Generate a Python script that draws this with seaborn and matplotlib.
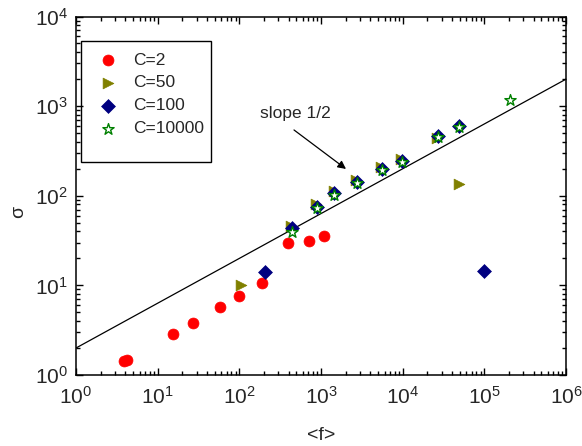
import numpy as np
import pandas as pd
import matplotlib
matplotlib.use("Agg")
import matplotlib.pyplot as plt
import seaborn as sns
from matplotlib.patches import Rectangle
from matplotlib.ticker import LogLocator, LogFormatterMathtext, NullFormatter

# ---- data ----
c2_f = [3.87, 4.18, 15.3, 26.8, 58.5, 98, 191, 391, 719, 1079]
c2_sigma = [1.43, 1.47, 2.89, 3.83, 5.78, 7.56, 10.7, 29.7, 31.5, 35.9]

c50_f = [104, 428, 868, 1425, 2680, 5420, 9540, 26000, 48500]
c50_sigma = [10.0, 46.5, 80, 112, 149, 208, 257, 445, 134]

c100_f = [206, 438, 885, 1455, 2735, 5530, 9730, 26800, 49300, 98000]
c100_sigma = [14.0, 43.7, 75.5, 106, 141, 197, 244, 465, 598, 14.5]

c10000_f = [438, 885, 1455, 2735, 5530, 9730, 26800, 49300, 208000]
c10000_sigma = [39.8, 73.7, 103, 137, 194, 240, 457, 590, 1173]

line_f = np.array([1.0, 1e6])
line_sigma = 2.0 * np.sqrt(line_f)   # guide line of slope 1/2

series_labels = ["C=2", "C=50", "C=100", "C=10000"]

# ---- style ----
sns.set_style("ticks")
plt.rcParams["font.family"] = ["Liberation Sans", "DejaVu Sans"]
plt.rcParams["mathtext.fontset"] = "custom"
plt.rcParams["mathtext.rm"] = "Liberation Sans"
plt.rcParams["mathtext.it"] = "Liberation Sans:italic"
plt.rcParams["mathtext.bf"] = "Liberation Sans:bold"

fig = plt.figure(figsize=(5.82, 4.46), dpi=100)
ax = fig.add_axes([76 / 582, (446 - 375) / 446, 490 / 582, 358.5 / 446])

sns.lineplot(x=line_f, y=line_sigma, color="black", lw=0.9, ax=ax)

sns.scatterplot(x=c2_f, y=c2_sigma, marker="o", color="#ff0000", s=62,
                edgecolor="#ff0000", linewidth=0.5, ax=ax, label=series_labels[0], zorder=3)
sns.scatterplot(x=c50_f, y=c50_sigma, marker=">", color="#808000", s=60,
                edgecolor="#808000", linewidth=0.5, ax=ax, label=series_labels[1], zorder=4)
sns.scatterplot(x=c100_f, y=c100_sigma, marker="D", color="#000080", s=50,
                edgecolor="#000080", linewidth=0.5, ax=ax, label=series_labels[2], zorder=5)
sns.scatterplot(x=c10000_f, y=c10000_sigma, marker="*", color="#008000", s=72,
                edgecolor="#008000", linewidth=1.0, ax=ax, label=series_labels[3], zorder=6)
ax.collections[-1].set_facecolor("white")

ax.set_xscale("log")
ax.set_yscale("log")
ax.set_xlim(1, 1e6)
ax.set_ylim(1, 1e4)

ax.xaxis.set_major_locator(LogLocator(base=10, numticks=10))
ax.xaxis.set_minor_locator(LogLocator(base=10, subs=np.arange(2, 10), numticks=20))
ax.yaxis.set_major_locator(LogLocator(base=10, numticks=10))
ax.yaxis.set_minor_locator(LogLocator(base=10, subs=np.arange(2, 10), numticks=20))
ax.xaxis.set_major_formatter(LogFormatterMathtext())
ax.yaxis.set_major_formatter(LogFormatterMathtext())
ax.xaxis.set_minor_formatter(NullFormatter())
ax.yaxis.set_minor_formatter(NullFormatter())

ax.tick_params(which="both", direction="in", top=True, right=True, width=1.0, color="black")
ax.tick_params(which="major", length=5, labelsize=15)
ax.tick_params(axis="x", which="major", pad=8)
ax.tick_params(axis="y", which="major", pad=6)
ax.tick_params(which="minor", length=3)
for sp in ax.spines.values():
    sp.set_linewidth(1.1)
    sp.set_color("black")

ax.set_xlabel("<f>", fontsize=14)
ax.set_ylabel("σ", fontsize=14)
ax.xaxis.set_label_coords(0.5, -0.145)
ax.yaxis.set_label_coords(-0.100, 0.455)

# annotation
ax.annotate("", xy=(2023, 199), xytext=(467, 542),
            arrowprops=dict(arrowstyle="-|>", color="black", lw=0.9,
                            mutation_scale=12, shrinkA=0, shrinkB=0))
ax.text(480, 818, "slope 1/2", ha="center", va="center", fontsize=12.5)

# legend
leg = ax.legend(loc="upper left", bbox_to_anchor=(0.0476, 0.900), frameon=False,
                fontsize=12.5, handlelength=1.0, handletextpad=0.94,
                labelspacing=0.45, borderpad=0, borderaxespad=0)
ax.add_patch(Rectangle((0.0102, 0.594), 0.2653, 0.338, transform=ax.transAxes,
                       fill=False, edgecolor="black", lw=1.0, zorder=7))

fig.savefig("out.png", dpi=100)
